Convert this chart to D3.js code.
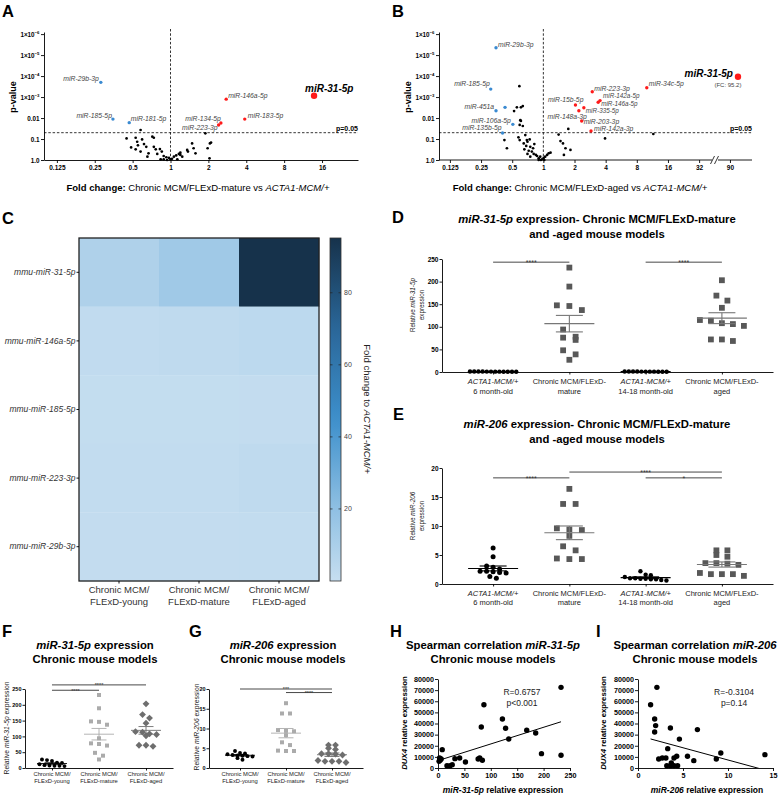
<!DOCTYPE html>
<html><head><meta charset="utf-8">
<script src="https://cdn.jsdelivr.net/npm/d3@7"></script>
<style>
body{margin:0;background:#fff;}
svg{font-family:"Liberation Sans",Arial,Helvetica,sans-serif;}
</style></head><body>
<svg id="fig" width="784" height="797"></svg>
<script>
// ================= DATA =================
const volcanoXTickFC = [0.125, 0.25, 0.5, 1, 2, 4, 8, 16];
const volcanoXTickLabels = ["0.125", "0.25", "0.5", "1", "2", "4", "8", "16"];
const volcanoBExtraTickFC = [32];
const volcanoBBrokenTickFC = [90];
const volcanoYTickNegLogP = [0, 1, 2, 3, 4, 5, 6];
const volcanoYTickLabels = ["1.0", "0.1", "0.01", "1×10^-3", "1×10^-4", "1×10^-5", "1×10^-6"];
const pThreshold = 0.05;

const aBlackLog2FC = [-0.79,-1.16,-0.92,-0.88,-1.04,-0.75,-0.70,-0.86,-0.92,-0.79,-0.64,-0.48,-0.44,-0.58,-0.44,-0.39,-0.28,-0.23,-0.35,-0.61,-0.18,-0.11,-0.04,0.0,-0.09,0.09,0.15,0.22,0.26,0.31,0.18,0.04,0.44,0.57,0.61,0.46,0.66,0.92,0.98,1.04,1.07,1.03,-0.26,-0.18,0.26];
const aBlackNegLogP = [1.43,1.03,1.06,0.87,0.60,0.98,0.76,0.70,0.51,0.40,0.63,1.11,1.06,0.32,0.63,0.51,0.52,0.40,0.29,0.16,0.19,0.13,0.10,0.03,0.0,0.16,0.22,0.29,0.35,0.16,0.03,0.06,0.48,0.79,0.56,0.40,0.32,1.27,0.56,0.79,0.83,0.08,0.03,0.03,0.24];
const aSigNames = ["miR-29b-3p","miR-185-5p","miR-181-5p","miR-146a-5p","miR-183-5p","miR-134-5p","miR-223-3p","miR-31-5p"];
const aSigLog2FC = [-1.84,-1.52,-1.09,1.47,1.96,1.33,1.27,3.79];
const aSigNegLogP = [3.70,1.95,1.78,2.90,1.95,1.76,1.67,3.06];

const bBlackLog2FC = [-0.77,-0.94,-0.85,-0.72,-0.66,-0.74,-0.72,-0.76,-0.66,-1.25,-1.17,-0.80,-0.76,-0.58,-0.53,-0.63,-0.51,-0.55,-0.42,-0.61,-0.47,-0.37,-0.51,-0.31,-0.42,-0.20,-0.15,-0.10,-0.04,0.01,0.06,0.12,0.17,0.23,0.03,-0.08,-0.15,-0.24,-0.33,-0.29,-0.44,0.49,0.55,0.63,0.71,0.87,0.66,0.80,1.98,3.53];
const bBlackNegLogP = [3.52,2.33,2.51,2.51,2.57,1.90,1.86,1.67,1.62,0.95,0.56,1.08,0.95,1.19,0.95,0.79,0.87,0.67,0.63,0.51,0.44,0.40,0.29,0.29,0.16,0.19,0.08,0.16,0.03,0.10,0.16,0.24,0.32,0.35,0.0,0.0,0.0,0.24,0.56,0.76,0.98,1.21,0.90,0.79,0.56,0.48,0.24,1.48,1.03,1.24];
const bSigNames = ["miR-29b-3p","miR-185-5p","miR-451a","","miR-106a-5p","miR-135b-5p","miR-223-3p","miR-34c-5p","miR-142a-5p","miR-146a-5p","miR-15b-5p","miR-335-5p","miR-148a-3p","miR-203-3p","miR-142a-3p","miR-31-5p"];
const bSigLog2FC = [-1.52,-1.69,-1.52,-1.23,-0.98,-1.31,1.57,3.32,1.82,1.76,1.03,1.30,1.14,1.23,1.53,Math.log2(95.2)];
const bSigNegLogP = [5.35,3.38,2.35,2.51,1.70,1.29,3.25,3.44,2.83,2.75,2.62,2.49,2.35,1.86,1.38,3.97];
const bTopFC = "(FC: 95.2)";

const hmRows = ["mmu-miR-31-5p","mmu-miR-146a-5p","mmu-miR-185-5p","mmu-miR-223-3p","mmu-miR-29b-3p"];
const hmCols = [["Chronic MCM/","FLExD-young"],["Chronic MCM/","FLExD-mature"],["Chronic MCM/","FLExD-aged"]];
const hmValues = [[8.5,13.8,95.2],[2.0,2.4,3.6],[1.0,1.0,1.1],[1.3,1.6,2.6],[1.1,1.2,1.4]];
const hmColorTicks = [20, 40, 60, 80];

const deCats = [["ACTA1-MCM/+","6 month-old"],["Chronic MCM/FLExD-","mature"],["ACTA1-MCM/+","14-18 month-old"],["Chronic MCM/FLExD-","aged"]];
const dActa6 = [0.5,0.8,1.0,0.7,1.1,0.6,0.9,1.2,0.8,1.0,0.7,0.9];
const dMature = [231,189,147.5,146,137,94,78,76,71,48,39,27];
const dActa14 = [0.6,0.9,1.1,0.8,0.7,1.0,1.2,0.9,0.8,1.0,0.6];
const dAged = [203,169,158,142,115,113.5,108,106,102,72,72,68.6];
const dTicks = [0,50,100,150,200,250];
const eActa6 = [6.2,4.7,3.1,2.9,2.6,2.2,2.2,2.1,2.0,1.9,1.3,1.0];
const eMature = [16.4,13.8,13.8,9.6,9.4,9.3,8.3,6.5,5.8,4.4,4.3,4.3];
const eActa14 = [2.2,1.6,1.5,1.2,1.0,1.0,0.9,0.9,0.8,0.8,0.7,0.6];
const eAged = [5.8,5.8,5.0,4.7,3.6,3.6,3.5,3.3,1.9,1.7,1.7,1.7,1.4];
const eTicks = [0,5,10,15,20];

const fgCats = [["Chronic MCM/","FLExD-young"],["Chronic MCM/","FLExD-mature"],["Chronic MCM/","FLExD-aged"]];
const fYoung = [27,25,22,17,16,12,9,8,7,7,6];
const gYoung = [4.3,3.8,3.7,3.5,3.3,3.2,3.1,3.0,2.9,2.5,2.1];

const hMir31 = [233,87,82,122,128,134,168,185,196,233,8,3,6,4,2,32,41,52,76,79,84,17,23,27];
const hDux4 = [72500,56900,36900,44000,35700,26100,33900,31500,12900,11400,16500,9000,8100,6900,6000,8400,9000,5400,8100,9000,6900,2100,2100,3000];
const iMir206 = [2.1,1.4,1.85,1.96,1.85,3.6,6.6,4.6,3.3,2.3,2.7,3.1,4.0,4.3,5.5,6.2,8.7,9.2,14.1,3.2,3.6,4.0,4.4,3.7];
const iDux4 = [72500,56900,44000,38100,32400,36000,34500,26000,17400,8100,9000,9000,9000,10500,10500,6600,8100,13500,12000,2100,2100,2100,2100,4500];
const hiYTicks = [0,10000,20000,30000,40000,50000,60000,70000,80000];
const hXTicks = [0,50,100,150,200,250];
const iXTicks = [0,5,10,15];
const hStats = ["R=0.6757","p<0.001"];
const iStats = ["R=-0.3104","p=0.14"];

// ================= DRAWING =================
const svg = d3.select("#fig");
const FONT = '"Liberation Sans", Arial, Helvetica, sans-serif';

function mixed(parent, x, y, parts, opt = {}) {
  const t = parent.append("text").attr("x", x).attr("y", y)
    .attr("font-size", opt.size || 8).attr("text-anchor", opt.anchor || "middle")
    .attr("fill", opt.fill || "#000");
  if (opt.weight) t.attr("font-weight", opt.weight);
  if (opt.rotate != null) t.attr("transform", `rotate(${opt.rotate},${x},${y})`);
  parts.forEach(p => {
    const s = t.append("tspan").text(p.t);
    if (p.b) s.attr("font-weight", "bold");
    if (p.i) s.attr("font-style", "italic");
  });
  return t;
}
function letter(x, y, t) {
  svg.append("text").attr("x", x).attr("y", y).attr("font-size", 16.5).attr("font-weight", "bold").text(t);
}
function styleAxis(g, size, weight) {
  g.attr("font-family", FONT).attr("font-size", size).attr("font-weight", weight || "bold");
  g.selectAll("path,line").attr("stroke", "#000").attr("stroke-width", 0.9);
  g.selectAll("text").attr("fill", "#000");
}

letter(2, 17, "A"); letter(392, 17, "B"); letter(2, 224, "C"); letter(392, 223, "D");
letter(393, 420, "E"); letter(2, 637, "F"); letter(189, 637, "G"); letter(390, 637, "H"); letter(596, 637, "I");

// ---------- Volcano ----------
function volcano(o) {
  const g = svg.append("g");
  const y = d3.scaleLinear().domain([0, 6.1]).range([160, 32]);
  const px = o.px;
  const ya = g.append("g").attr("transform", `translate(${o.x0},0)`)
    .call(d3.axisLeft(y).tickValues(volcanoYTickNegLogP).tickSize(3).tickSizeOuter(0).tickPadding(1.5).tickFormat(""));
  styleAxis(ya, 6.3);
  ya.selectAll(".tick").each(function (d, i) {
    const lab = volcanoYTickLabels[i];
    const t = d3.select(this).append("text").attr("x", -4.5).attr("dy", "0.32em")
      .attr("text-anchor", "end").attr("fill", "#000");
    if (lab.includes("^")) {
      const [base, sup] = lab.split("^");
      t.append("tspan").text(base);
      t.append("tspan").attr("dy", "-0.5em").attr("font-size", 4.3).text(sup.replace("-", "−"));
    } else t.text(lab);
  });
  o.drawX(g);
  g.append("line").attr("x1", px(0)).attr("x2", px(0)).attr("y1", 29).attr("y2", 160)
    .attr("stroke", "#000").attr("stroke-width", 0.8).attr("stroke-dasharray", "2.5,1.8");
  const yt = y(-Math.log10(pThreshold));
  g.append("line").attr("x1", o.x0).attr("x2", o.x1).attr("y1", yt).attr("y2", yt)
    .attr("stroke", "#000").attr("stroke-width", 0.8).attr("stroke-dasharray", "2.5,1.8");
  g.append("text").attr("x", o.x1).attr("y", yt - 1.5).attr("text-anchor", "end")
    .attr("font-size", 7).attr("font-weight", "bold").text("p=" + pThreshold.toFixed(2));
  o.blackL2.forEach((l, i) => g.append("circle").attr("cx", px(l)).attr("cy", y(o.blackNLP[i])).attr("r", 1.35).attr("fill", "#000"));
  o.sigL2.forEach((l, i) => {
    const name = o.sigNames[i];
    const big = name === "miR-31-5p";
    const cx = px(l), cy = y(o.sigNLP[i]);
    g.append("circle").attr("cx", cx).attr("cy", cy).attr("r", big ? 3.2 : 1.7)
      .attr("fill", l < 0 ? "#3a8ad1" : "#ff1a1a");
    if (!name) return;
    const pl = o.place[name];
    g.append("text").attr("x", cx + pl[1]).attr("y", cy + pl[2]).attr("text-anchor", pl[0])
      .attr("font-size", big ? 10 : (pl[3] || 6.8)).attr("font-style", "italic")
      .attr("font-weight", big ? "bold" : "normal").attr("fill", big ? "#000" : "#444").text(name);
  });
  mixed(g, 15.5 + o.x0 - 44, 97, [{ t: "p-value" }], { size: 9, weight: "bold", rotate: -90 });
  mixed(g, o.xLabelX, 191, [{ t: "Fold change: ", b: true }, { t: o.xLabelMid }, { t: "ACTA1-MCM/+", i: true }], { size: 9.5 });
}

const xA = d3.scaleLinear().domain([-3.34, 4.95]).range([44, 358]);
volcano({
  px: xA, x0: 44, x1: 358, xLabelX: 198, xLabelMid: "Chronic MCM/FLExD-mature vs ",
  blackL2: aBlackLog2FC, blackNLP: aBlackNegLogP, sigNames: aSigNames, sigL2: aSigLog2FC, sigNLP: aSigNegLogP,
  drawX: g => {
    const xa = g.append("g").attr("transform", "translate(0,160)")
      .call(d3.axisBottom(xA).tickValues(volcanoXTickFC.map(Math.log2)).tickSize(3).tickSizeOuter(0).tickPadding(2)
        .tickFormat((d, i) => volcanoXTickLabels[i]));
    styleAxis(xa, 6.5);
  },
  place: {
    "miR-29b-3p": ["end", -2, -1], "miR-185-5p": ["end", -1, -1.5], "miR-181-5p": ["start", 1.5, -1.5],
    "miR-146a-5p": ["start", 2, -1.5], "miR-183-5p": ["start", 3, -1.5], "miR-134-5p": ["end", 0, -2.5],
    "miR-223-3p": ["end", -1, 5.5], "miR-31-5p": ["start", -9, -3.5]
  }
});

const xB1 = d3.scaleLinear().domain([-3.35, 5.51]).range([439, 715]);
const xB2 = d3.scaleLinear().domain([80.3, 104.3]).range([715, 752]);
const pxB = l => (l <= 5.51 ? xB1(l) : xB2(Math.pow(2, l)));
volcano({
  px: pxB, x0: 439, x1: 752, xLabelX: 580, xLabelMid: "Chronic MCM/FLExD-aged vs ",
  blackL2: bBlackLog2FC, blackNLP: bBlackNegLogP, sigNames: bSigNames, sigL2: bSigLog2FC, sigNLP: bSigNegLogP,
  drawX: g => {
    const xa = g.append("g").attr("transform", "translate(0,160)")
      .call(d3.axisBottom(xB1).tickValues(volcanoXTickFC.concat(volcanoBExtraTickFC).map(Math.log2)).tickSize(3).tickSizeOuter(0).tickPadding(2)
        .tickFormat(d => { const v = Math.pow(2, d); return v < 1 ? String(v) : String(Math.round(v)); }));
    styleAxis(xa, 6.5);
    xa.select(".domain").remove();
    const xb = g.append("g").attr("transform", "translate(0,160)")
      .call(d3.axisBottom(xB2).tickValues(volcanoBBrokenTickFC).tickSize(3).tickSizeOuter(0).tickPadding(2));
    styleAxis(xb, 6.5);
    xb.select(".domain").remove();
    g.append("line").attr("x1", 439).attr("x2", 752).attr("y1", 160).attr("y2", 160).attr("stroke", "#000").attr("stroke-width", 0.9);
    g.append("rect").attr("x", 712).attr("y", 157).attr("width", 6).attr("height", 6).attr("fill", "#fff");
    [[710.5, 714.5], [714.5, 718.5]].forEach(([a, b]) =>
      g.append("line").attr("x1", a).attr("y1", 164).attr("x2", b).attr("y2", 156).attr("stroke", "#000").attr("stroke-width", 0.8));
  },
  place: {
    "miR-29b-3p": ["start", 2, -1], "miR-185-5p": ["end", -1, -3.5], "miR-451a": ["end", -2, -1.2],
    "miR-106a-5p": ["end", -2, -1], "miR-135b-5p": ["end", -1, -2.5], "miR-223-3p": ["start", 2, -1],
    "miR-34c-5p": ["start", 2, -2], "miR-142a-5p": ["start", 3, -2.6, 6.3], "miR-146a-5p": ["start", 3, 3.6, 6.3],
    "miR-15b-5p": ["end", 8, -3.5], "miR-335-5p": ["start", 2, 5.2, 6.3], "miR-148a-3p": ["end", 8, 8],
    "miR-203-3p": ["start", 2, 3.5], "miR-142a-3p": ["start", 3, -0.5], "miR-31-5p": ["end", -5, 0]
  }
});
svg.append("text").attr("x", pxB(Math.log2(95.2)) - 10).attr("y", 87).attr("text-anchor", "middle")
  .attr("font-size", 6).attr("fill", "#444").text(bTopFC);

// ---------- Heatmap C ----------
(function () {
  const g = svg.append("g");
  const x = d3.scaleBand().domain(d3.range(hmCols.length)).range([79, 319]);
  const y = d3.scaleBand().domain(hmRows).range([238, 581]);
  const color = d3.scaleLinear().domain([0, 20, 45, 70, 95.2])
    .range(["#c6def0", "#8fc0e3", "#3d8fcb", "#2a6799", "#16324b"]).interpolate(d3.interpolateRgb);
  hmRows.forEach((r, ri) => hmValues[ri].forEach((v, ci) => {
    g.append("rect").attr("x", x(ci)).attr("y", y(r)).attr("width", x.bandwidth() + 0.3).attr("height", y.bandwidth() + 0.3).attr("fill", color(v));
  }));
  g.append("rect").attr("x", 79).attr("y", 238).attr("width", 240).attr("height", 343)
    .attr("fill", "none").attr("stroke", "#222").attr("stroke-width", 1.3);
  const ya = g.append("g").attr("transform", "translate(79,0)").call(d3.axisLeft(y).tickSize(2.5).tickSizeOuter(0).tickPadding(1));
  styleAxis(ya, 8.5, "normal");
  ya.select(".domain").remove();
  ya.selectAll("text").attr("font-style", "italic").attr("fill", "#333");
  const xa = g.append("g").attr("transform", "translate(0,581)").call(d3.axisBottom(x).tickSize(2.5).tickSizeOuter(0).tickFormat(""));
  styleAxis(xa, 9.5, "normal");
  xa.select(".domain").remove();
  hmCols.forEach((c, i) => c.forEach((line, li) =>
    g.append("text").attr("x", x(i) + x.bandwidth() / 2).attr("y", 593 + li * 12.3).attr("text-anchor", "middle")
      .attr("font-size", 9.5).attr("fill", "#333").text(line)));
  const cy = d3.scaleLinear().domain([0, 95.2]).range([581, 238]);
  const grad = svg.append("defs").append("linearGradient").attr("id", "cbar").attr("x1", 0).attr("y1", 1).attr("x2", 0).attr("y2", 0);
  d3.range(0, 1.0001, 0.05).forEach(t => grad.append("stop").attr("offset", t).attr("stop-color", color(t * 95.2)));
  g.append("rect").attr("x", 330).attr("y", 238).attr("width", 11).attr("height", 343)
    .attr("fill", "url(#cbar)").attr("stroke", "#333").attr("stroke-width", 0.8);
  hmColorTicks.forEach(v => {
    g.append("line").attr("x1", 330).attr("x2", 332.5).attr("y1", cy(v)).attr("y2", cy(v)).attr("stroke", "#222").attr("stroke-width", 0.7);
    g.append("line").attr("x1", 338.5).attr("x2", 341).attr("y1", cy(v)).attr("y2", cy(v)).attr("stroke", "#222").attr("stroke-width", 0.7);
    g.append("text").attr("x", 344).attr("y", cy(v) + 2.5).attr("font-size", 7).attr("fill", "#444").text(v);
  });
  mixed(g, 364, 409, [{ t: "Fold change to " }, { t: "ACTA1-MCM/+", i: true }], { size: 9.5, rotate: 90, fill: "#222" });
})();

// ---------- Dot plots ----------
function swarm(values, y, bin, spacing) {
  const pts = values.map(v => ({ v, py: y(v) })).sort((a, b) => a.py - b.py);
  const rows = []; let cur = null;
  pts.forEach(p => {
    if (cur && p.py - cur.start <= bin) cur.items.push(p);
    else { cur = { start: p.py, items: [p] }; rows.push(cur); }
  });
  rows.forEach(r => { const n = r.items.length; r.items.forEach((p, i) => p.dx = (i - (n - 1) / 2) * spacing); });
  return pts;
}
function marker(g, shape, cx, cy, s, fill) {
  if (shape === "circle") g.append("circle").attr("cx", cx).attr("cy", cy).attr("r", s / 2).attr("fill", fill);
  else if (shape === "square") g.append("rect").attr("x", cx - s / 2).attr("y", cy - s / 2).attr("width", s).attr("height", s).attr("fill", fill);
  else {
    const h = s * 0.62;
    g.append("path").attr("d", `M${cx},${cy - h}L${cx + h},${cy}L${cx},${cy + h}L${cx - h},${cy}Z`).attr("fill", fill);
  }
}
function dotPlot(o) {
  const g = svg.append("g");
  const x = d3.scalePoint().domain(d3.range(o.cats.length)).range(o.xRange).padding(o.pad);
  const y = d3.scaleLinear().domain(o.yDomain).range(o.yRange);
  const ya = g.append("g").attr("transform", `translate(${o.xRange[0]},0)`)
    .call(d3.axisLeft(y).tickValues(o.yTicks).tickSize(2.5).tickSizeOuter(0).tickPadding(1));
  styleAxis(ya, o.tickFont);
  const xa = g.append("g").attr("transform", `translate(0,${o.yRange[0]})`)
    .call(d3.axisBottom(x).tickSize(2.5).tickSizeOuter(0).tickFormat(""));
  styleAxis(xa, o.tickFont);
  o.cats.forEach((c, i) => c.forEach((line, li) => {
    g.append("text").attr("x", x(i)).attr("y", o.catY + li * o.catGap).attr("text-anchor", "middle")
      .attr("font-size", o.catFont).attr("fill", "#222")
      .attr("font-style", line.startsWith("ACTA1") ? "italic" : "normal").text(line);
  }));
  o.groups.forEach((gr, i) => {
    swarm(gr.values, y, o.bin, gr.spacing).forEach(p => marker(g, gr.shape, x(i) + p.dx, p.py, gr.size, gr.fill));
  });
  o.groups.forEach((gr, i) => {
    const m = d3.mean(gr.values), sem = d3.deviation(gr.values) / Math.sqrt(gr.values.length);
    const cx = x(i), lc = gr.line;
    const L = (x1, y1, x2, y2) => g.append("line").attr("x1", x1).attr("y1", y1).attr("x2", x2).attr("y2", y2)
      .attr("stroke", lc).attr("stroke-width", o.lw);
    L(cx - o.meanW / 2, y(m), cx + o.meanW / 2, y(m));
    L(cx, y(m - sem), cx, y(m + sem));
    L(cx - o.semW / 2, y(m - sem), cx + o.semW / 2, y(m - sem));
    L(cx - o.semW / 2, y(m + sem), cx + o.semW / 2, y(m + sem));
  });
  o.sig.forEach(s => {
    const yy = y(s.level);
    g.append("line").attr("x1", x(s.a)).attr("x2", x(s.b)).attr("y1", yy).attr("y2", yy).attr("stroke", "#333").attr("stroke-width", 0.9);
    g.append("text").attr("x", (x(s.a) + x(s.b)) / 2).attr("y", yy + o.starFont * 0.45).attr("text-anchor", "middle")
      .attr("font-size", o.starFont).attr("fill", "#333").text(s.label);
  });
  o.title.forEach((parts, li) => mixed(g, o.titleX, o.titleY + li * o.titleGap, parts, { size: o.titleFont, weight: "bold" }));
  o.ylabel.forEach((parts, li) => mixed(g, o.ylabX + li * o.ylabGap, o.ylabY, parts, { size: o.ylabFont, rotate: -90, fill: "#222" }));
}

const sqDark = "#585858", sqLight = "#ababab", diam = "#6e6e6e";
dotPlot({
  cats: deCats, xRange: [442, 773], pad: 0.67, yDomain: [0, 250], yRange: [372, 259], yTicks: dTicks,
  tickFont: 6.5, catY: 383.5, catGap: 10, catFont: 7.5, bin: 8, meanW: 50, semW: 27, lw: 1.1, starFont: 7,
  groups: [
    { values: dActa6, shape: "circle", size: 4.4, spacing: 4.2, fill: "#000", line: "#000" },
    { values: dMature, shape: "square", size: 5.8, spacing: 12.5, fill: sqDark, line: "#777" },
    { values: dActa14, shape: "circle", size: 4.4, spacing: 4.2, fill: "#000", line: "#000" },
    { values: dAged, shape: "square", size: 5.8, spacing: 11, fill: sqDark, line: "#777" }
  ],
  sig: [{ a: 0, b: 1, level: 243, label: "****" }, { a: 2, b: 3, level: 243, label: "****" }],
  title: [[{ t: "miR-31-5p", i: true }, { t: " expression- Chronic MCM/FLExD-mature" }], [{ t: "and -aged mouse models" }]],
  titleX: 597, titleY: 223, titleGap: 15, titleFont: 11.3,
  ylabel: [[{ t: "Relative " }, { t: "miR-31-5p", i: true }], [{ t: "expression" }]], ylabX: 415, ylabGap: 8.5, ylabY: 305, ylabFont: 6.3
});
dotPlot({
  cats: deCats, xRange: [442, 773], pad: 0.67, yDomain: [0, 20], yRange: [584, 468], yTicks: eTicks,
  tickFont: 6.5, catY: 595.5, catGap: 9.5, catFont: 7.5, bin: 4.5, meanW: 50, semW: 27, lw: 1.1, starFont: 7,
  groups: [
    { values: eActa6, shape: "circle", size: 5, spacing: 6.5, fill: "#000", line: "#000" },
    { values: eMature, shape: "square", size: 5.8, spacing: 12.5, fill: sqDark, line: "#777" },
    { values: eActa14, shape: "circle", size: 4.4, spacing: 5.2, fill: "#000", line: "#000" },
    { values: eAged, shape: "square", size: 5.8, spacing: 11, fill: sqDark, line: "#777" }
  ],
  sig: [{ a: 0, b: 1, level: 18.3, label: "****" }, { a: 1, b: 3, level: 19.3, label: "****" }, { a: 2, b: 3, level: 18.3, label: "*" }],
  title: [[{ t: "miR-206", i: true }, { t: " expression- Chronic MCM/FLExD-mature" }], [{ t: "and -aged mouse models" }]],
  titleX: 597, titleY: 428, titleGap: 14.5, titleFont: 11.3,
  ylabel: [[{ t: "Relative " }, { t: "miR-206", i: true }], [{ t: "expression" }]], ylabX: 415, ylabGap: 8.5, ylabY: 516, ylabFont: 6.3
});
dotPlot({
  cats: fgCats, xRange: [25, 173], pad: 0.574, yDomain: [0, 250], yRange: [768, 689], yTicks: dTicks,
  tickFont: 5.5, catY: 775.5, catGap: 7.3, catFont: 5.8, bin: 3.5, meanW: 30, semW: 15, lw: 0.9, starFont: 5.5,
  groups: [
    { values: fYoung, shape: "circle", size: 3.9, spacing: 5, fill: "#000", line: "#000" },
    { values: dMature, shape: "square", size: 4, spacing: 8, fill: sqLight, line: sqLight },
    { values: dAged, shape: "diamond", size: 5.5, spacing: 7, fill: diam, line: diam }
  ],
  sig: [{ a: 0, b: 1, level: 246, label: "****" }, { a: 0, b: 2, level: 263, label: "****" }],
  title: [[{ t: "miR-31-5p", i: true }, { t: " expression" }], [{ t: "Chronic mouse models" }]],
  titleX: 95, titleY: 649, titleGap: 14, titleFont: 11.3,
  ylabel: [[{ t: "Relative " }, { t: "miR-31-5p", i: true }, { t: " expression" }]], ylabX: 8.5, ylabGap: 0, ylabY: 728, ylabFont: 6.8
});
dotPlot({
  cats: fgCats, xRange: [209, 363], pad: 0.674, yDomain: [0, 20], yRange: [768, 689], yTicks: eTicks,
  tickFont: 5.5, catY: 775.5, catGap: 7.3, catFont: 5.8, bin: 3, meanW: 30, semW: 15, lw: 0.9, starFont: 5.5,
  groups: [
    { values: gYoung, shape: "circle", size: 3.9, spacing: 5, fill: "#000", line: "#000" },
    { values: eMature, shape: "square", size: 4, spacing: 8, fill: sqLight, line: sqLight },
    { values: eAged, shape: "diamond", size: 5.5, spacing: 7, fill: diam, line: diam }
  ],
  sig: [{ a: 0, b: 2, level: 20, label: "***" }, { a: 1, b: 2, level: 19.1, label: "****" }],
  title: [[{ t: "miR-206", i: true }, { t: " expression" }], [{ t: "Chronic mouse models" }]],
  titleX: 283, titleY: 649, titleGap: 14, titleFont: 11.3,
  ylabel: [[{ t: "Relative " }, { t: "miR-206", i: true }, { t: " expression" }]], ylabX: 198.5, ylabGap: 0, ylabY: 727, ylabFont: 6.8
});

// ---------- Correlation scatter ----------
let clipId = 0;
function scatter(o) {
  const g = svg.append("g");
  const x = d3.scaleLinear().domain(o.xDomain).range(o.xRange);
  const y = d3.scaleLinear().domain([0, 80000]).range([768, 679]);
  const ya = g.append("g").attr("transform", `translate(${o.xRange[0]},0)`)
    .call(d3.axisLeft(y).tickValues(hiYTicks).tickSize(3).tickSizeOuter(0).tickPadding(1).tickFormat(d3.format("d")));
  styleAxis(ya, 7.2);
  const xa = g.append("g").attr("transform", "translate(0,768)")
    .call(d3.axisBottom(x).tickValues(o.xTicks).tickSize(3).tickSizeOuter(0).tickPadding(2).tickFormat(d3.format("d")));
  styleAxis(xa, 7.2);
  const mx = d3.mean(o.xs), my = d3.mean(o.ys);
  const b = d3.sum(o.xs, (v, i) => (v - mx) * (o.ys[i] - my)) / d3.sum(o.xs, v => (v - mx) * (v - mx));
  const a = my - b * mx;
  const id = "clip" + (clipId++);
  svg.append("clipPath").attr("id", id).append("rect").attr("x", o.xRange[0]).attr("y", 679)
    .attr("width", o.xRange[1] - o.xRange[0]).attr("height", 89);
  const x0 = d3.min(o.xs), x1 = d3.max(o.xs);
  g.append("line").attr("clip-path", `url(#${id})`).attr("x1", x(x0)).attr("y1", y(a + b * x0))
    .attr("x2", x(x1)).attr("y2", y(a + b * x1)).attr("stroke", "#000").attr("stroke-width", 1);
  o.xs.forEach((v, i) => g.append("circle").attr("cx", x(v)).attr("cy", y(o.ys[i])).attr("r", 2.7).attr("fill", "#000"));
  o.stats.forEach((s, i) => g.append("text").attr("x", o.statX).attr("y", 695 + i * 11).attr("text-anchor", "middle")
    .attr("font-size", 8.5).attr("fill", "#222").text(s));
  o.title.forEach((parts, li) => mixed(g, o.titleX, 649 + li * 14, parts, { size: 11.3, weight: "bold" }));
  mixed(g, o.xlabX, 793, o.xlab, { size: 8.5, weight: "bold" });
  mixed(g, o.ylabX, 723, [{ t: "DUX4", i: true }, { t: " relative expression" }], { size: 7.8, weight: "bold", rotate: -90 });
}
scatter({
  xs: hMir31, ys: hDux4, xDomain: [0, 250], xRange: [438, 570], xTicks: hXTicks, stats: hStats, statX: 522,
  title: [[{ t: "Spearman correlation " }, { t: "miR-31-5p", i: true }], [{ t: "Chronic mouse models" }]], titleX: 493,
  xlab: [{ t: "miR-31-5p", i: true }, { t: " relative expression" }], xlabX: 503, ylabX: 407
});
scatter({
  xs: iMir206, ys: iDux4, xDomain: [0, 15], xRange: [638, 773], xTicks: iXTicks, stats: iStats, statX: 734,
  title: [[{ t: "Spearman correlation " }, { t: "miR-206", i: true }], [{ t: "Chronic mouse models" }]], titleX: 695,
  xlab: [{ t: "miR-206", i: true }, { t: " relative expression" }], xlabX: 707, ylabX: 606
});
</script>
</body></html>
